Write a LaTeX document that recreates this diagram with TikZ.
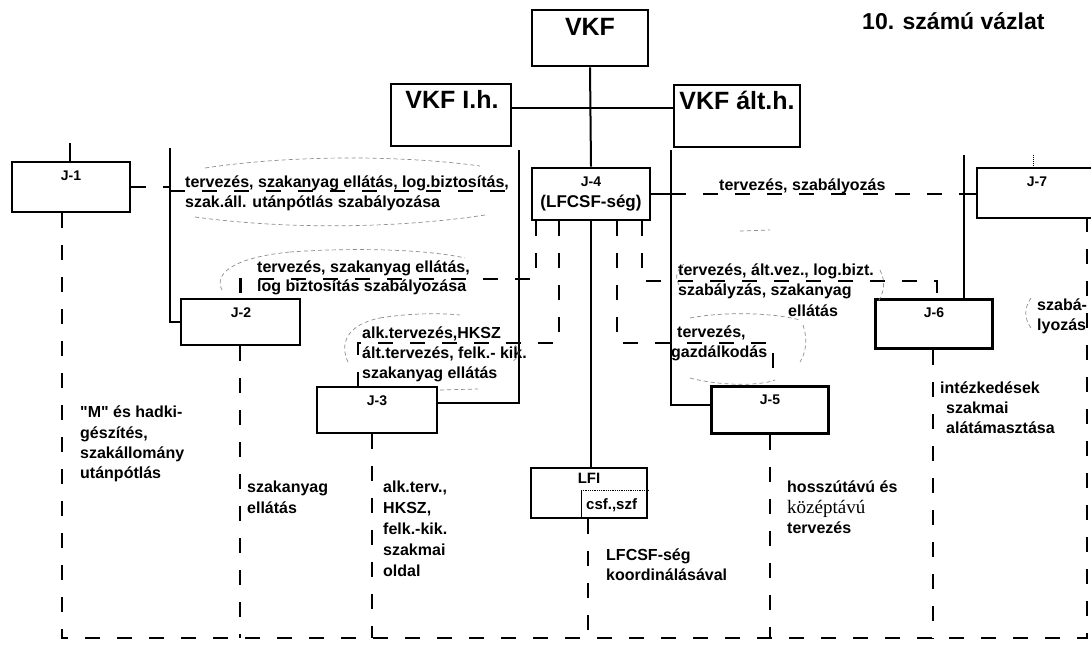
\documentclass[tikz,border=0pt]{standalone}
\usepackage{fontspec}
\setmainfont{Liberation Sans}
\newfontfamily\lsans{Liberation Sans}
\newfontfamily\serifff{Liberation Serif}
\tikzset{
  box/.style={draw, line width=2.8pt, inner sep=0pt},
  sl/.style={line width=2pt},
  dl/.style={line width=2.6pt, dash pattern=on 15pt off 17pt},
  ell/.style={draw=black!45, line width=0.7pt, dash pattern=on 4pt off 3pt},
  lab/.style={font=\lsans\bfseries\fontsize{16}{20}\selectfont, anchor=base west, inner sep=0pt},
  jlab/.style={font=\lsans\bfseries\fontsize{14}{16}\selectfont, anchor=base, inner sep=0pt},
  big/.style={font=\lsans\bfseries\fontsize{25}{28}\selectfont, anchor=base, inner sep=0pt},
}
\begin{document}
\begin{tikzpicture}[x=1pt,y=-1pt]
\useasboundingbox (0,0) rectangle (1091,647);

% boxes
\node[box, minimum width=116pt, minimum height=56pt] (vkf) at (590,38) {};
\node[box, minimum width=120pt, minimum height=62pt] (vkfl) at (451,115) {};
\node[box, minimum width=126pt, minimum height=62pt] (vkfa) at (737,116) {};
\node[box, minimum width=118pt, minimum height=50pt] (j1) at (71,187) {};
\node[box, minimum width=119pt, minimum height=46pt] (j2) at (240.5,322) {};
\node[box, minimum width=120pt, minimum height=46pt] (j3) at (377,410) {};
\node[box, minimum width=118pt, minimum height=52pt] (j4) at (591,194) {};
\node[box, minimum width=117pt, minimum height=47pt] (j5) at (770,410) {};
\node[box, minimum width=117pt, minimum height=49pt] (j6) at (934,324) {};
\node[box, minimum width=124pt, minimum height=50pt] (j7) at (1039,193) {};
\node[box, minimum width=116pt, minimum height=50pt] (lfi) at (589,493) {};

% box texts
\node[big] (vkft) at (590,36) {VKF};
\node[big] (vkflt) at (452,109) {VKF I.h.};
\node[big] (vkfat) at (737,110) {VKF ált.h.};
\node[jlab] (j1t) at (71,180) {J-1};
\node[jlab] (j2t) at (241,317) {J-2};
\node[jlab] (j3t) at (377,405) {J-3};
\node[jlab] (j4t) at (591,186) {J-4};
\node[jlab, font=\lsans\bfseries\fontsize{17}{18}\selectfont] (j4u) at (591,207) {(LFCSF-ség)};
\node[jlab] (j5t) at (770,404) {J-5};
\node[jlab] (j6t) at (934,317) {J-6};
\node[jlab] (j7t) at (1037,186) {J-7};
\node[jlab, font=\lsans\bfseries\fontsize{15}{16}\selectfont] (lfit) at (589,483) {LFI};
\node[lab, font=\lsans\bfseries\fontsize{15}{16}\selectfont] (lfiu) at (586,509) {csf.,szf};
\coordinate (lfd) at (581,490);
\draw[densely dotted, line width=0.8pt] (lfd) -- (lfd -| lfi.east);
\draw[line width=0.8pt] (lfd) -- (lfd |- lfi.south);

% title
\node[font=\lsans\bfseries\fontsize{23}{25}\selectfont, anchor=base west, inner sep=0pt] (title) at (862,30) {10. számú vázlat};

% solid connectors
\coordinate (t0) at (70,143);
\coordinate (t1) at (170,148);
\coordinate (t2) at (519,150);
\coordinate (t3) at (671,150);
\coordinate (t4) at (964,155);
\coordinate (t7) at (1033,155);
\coordinate (j3e) at ([yshift=7pt]j3.east);
\coordinate (j5w) at ([yshift=5pt]j5.west);
\coordinate (vl) at ([yshift=7pt]vkfl.east);
\draw[sl] (vkf.south) -- (j4.north);
\draw[sl] (vl) -- (vl -| vkfa.west);
\draw[sl] (t0) -- (t0 |- j1.north);
\draw[sl] (t1) -- (t1 |- j2.west) -- (j2.west);
\draw[sl] (t2) -- (t2 |- j3e) -- (j3e);
\draw[sl] (t3) -- (t3 |- j5w) -- (j5w);
\draw[sl] (t4) -- (t4 |- j6.north);
\draw[sl] (j4.south) -- (j4.south |- lfi.north);
\draw[sl] (j4.east) -- (j4.east -| t3);
\draw[dl] (j4.east -| t3) -- (j4.east -| t4);
\draw[sl] (j4.east -| t4) -- (j7.west |- j4.east);
\draw[densely dotted, line width=1pt] (t7) -- (t7 |- j7.north);

% J-1 link
\coordinate (u1) at (170,191);
\coordinate (u2) at (519,191);
\draw[dl] (j1.east) -- (j1.east -| t1);
\draw[dl] (u1) -- (u2);

% dashed links from J-4
\coordinate (d1) at (536,279);
\coordinate (d2) at (559,343);
\coordinate (x3) at (358,343);
\coordinate (d3) at (617,343);
\coordinate (x5) at (773,343);
\coordinate (d4) at (642,281);
\coordinate (x6) at (937,281);
\draw[dl] (j4.south -| d1) -- (d1) -- (d1 -| j2.north) -- (j2.north);
\draw[dl] (j4.south -| d2) -- (d2) -- (x3) -- (x3 |- j3.north);
\draw[dl] (j4.south -| d3) -- (d3) -- (x5) -- (x5 |- j5.north);
\draw[dl] (j4.south -| d4) -- (d4) -- (x6) -- (x6 |- j6.north);

% bottom dashed network
\coordinate (b1) at (62,638);
\coordinate (b2) at (240,638);
\coordinate (b3) at (372,638);
\coordinate (b4) at (588,638);
\coordinate (b5) at (770,638);
\coordinate (b6) at (933,638);
\coordinate (b7) at (1087,638);
\draw[dl] (j1.south -| b1) -- (b1) -- (b7) -- (j7.south -| b7);
\draw[dl] (j2.south -| b2) -- (b2);
\draw[dl] (j3.south -| b3) -- (b3);
\draw[dl] (lfi.south -| b4) -- (b4);
\draw[dl] (j5.south -| b5) -- (b5);
\draw[dl] (j6.south -| b6) -- (b6);

% labels along links
\node[lab] (l1a) at (185,187) {tervezés, szakanyag ellátás, log.biztosítás,};
\node[lab] (l1b) at (185,207) {szak.áll. utánpótlás szabályozása};
\node[lab] (l2a) at (257,272) {tervezés, szakanyag ellátás,};
\node[lab] (l2b) at (257,291) {log biztosítás szabályozása};
\node[lab] (l3a) at (362,338) {alk.tervezés,HKSZ};
\node[lab] (l3b) at (362,358) {ált.tervezés, felk.- kik.};
\node[lab] (l3c) at (362,378) {szakanyag ellátás};
\node[lab] (l4a) at (677,337) {tervezés,};
\node[lab] (l4b) at (671,357) {gazdálkodás};
\node[lab] (l5a) at (678,275) {tervezés, ált.vez., log.bizt.};
\node[lab] (l5b) at (678,295) {szabályzás, szakanyag};
\node[lab] (l5c) at (788,316) {ellátás};
\node[lab] (l6) at (719,190) {tervezés, szabályozás};
\node[lab] (l7a) at (1037,310) {szabá-};
\node[lab] (l7b) at (1037,330) {lyozás};

% bottom labels
\node[lab] (m1) at (80,417) {"M" és hadki-};
\node[lab] (m2) at (80,438) {gészítés,};
\node[lab] (m3) at (80,458) {szakállomány};
\node[lab] (m4) at (80,478) {utánpótlás};
\node[lab] (s1) at (247,492) {szakanyag};
\node[lab] (s2) at (247,513) {ellátás};
\node[lab] (a1) at (383,492) {alk.terv.,};
\node[lab] (a2) at (383,513) {HKSZ,};
\node[lab] (a3) at (383,534) {felk.-kik.};
\node[lab] (a4) at (383,555) {szakmai};
\node[lab] (a5) at (383,576) {oldal};
\node[lab] (k1) at (606,560) {LFCSF-ség};
\node[lab] (k2) at (606,580) {koordinálásával};
\node[lab] (h1) at (787,492) {hosszútávú és};
\node[lab, font=\serifff\fontsize{19}{20}\selectfont] (h2) at (787,513) {középtávú};
\node[lab] (h3) at (787,533) {tervezés};
\node[lab] (i1) at (940,393) {intézkedések};
\node[lab] (i2) at (946,413) {szakmai};
\node[lab] (i3) at (946,433) {alátámasztása};

% faint ellipse marks
\draw[ell] (205,168) .. controls (290,155) and (400,155) .. (480,166);
\draw[ell] (195,217) .. controls (290,230) and (400,228) .. (485,215);
\draw[ell] (222,290) .. controls (214,275) and (230,258) .. (290,252);
\draw[ell] (290,252) .. controls (360,247) and (430,250) .. (465,258);
\draw[ell] (348,362) .. controls (340,345) and (345,325) .. (380,318);
\draw[ell] (380,318) .. controls (410,313) and (440,313) .. (460,315);
\draw[ell] (515,345) .. controls (521,352) and (518,358) .. (512,362);
\draw[ell] (440,390) -- (478,389);
\draw[ell] (679,285) .. controls (674,276) and (678,268) .. (684,264);
\draw[ell] (740,231) -- (770,230);
\draw[ell] (880,270) .. controls (886,282) and (884,292) .. (878,302);
\draw[ell] (690,318) .. controls (720,312) and (770,312) .. (800,320);
\draw[ell] (803,325) .. controls (808,340) and (806,352) .. (800,362);
\draw[ell] (690,378) .. controls (720,386) and (760,386) .. (775,380);
\draw[ell] (1031,298) .. controls (1024,308) and (1024,318) .. (1031,328);
\end{tikzpicture}
\end{document}
